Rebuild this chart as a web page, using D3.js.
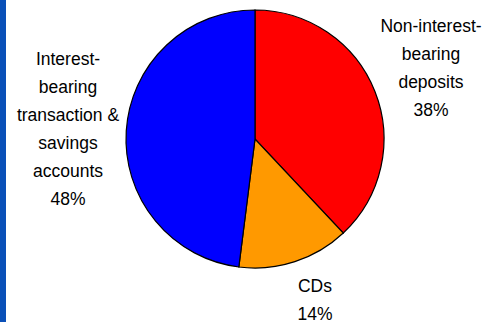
<!DOCTYPE html>
<html><head><meta charset="utf-8">
<script src="https://cdn.jsdelivr.net/npm/d3@7"></script>
<style>html,body{margin:0;padding:0;background:#fff;overflow:hidden}</style>
</head><body>
<svg id="chart" width="490" height="322"></svg>
<script>
const categories = ["Non-interest-bearing deposits", "CDs", "Interest-bearing transaction & savings accounts"];
const values = [38, 14, 48];
const colors = ["#ff0000", "#ff9900", "#0000ff"];
const labelLines = [
  ["Non-interest-", "bearing", "deposits", "38%"],
  ["CDs", "14%"],
  ["Interest-", "bearing", "transaction &", "savings", "accounts", "48%"]
];

const svg = d3.select("#chart");
svg.append("rect").attr("x", 0).attr("y", 0).attr("width", 6).attr("height", 322).attr("fill", "#0a50b8");

const cx = 255, cy = 139, r = 129;
const pie = d3.pie().sort(null).value(d => d)(values);
const arc = d3.arc().innerRadius(0).outerRadius(r);
const g = svg.append("g").attr("transform", `translate(${cx},${cy})`);
g.selectAll("path").data(pie).join("path")
  .attr("d", arc)
  .attr("fill", (d, i) => colors[i])
  .attr("stroke", "#000")
  .attr("stroke-width", 1.2);

const labelPos = [[431, 25], [315, 285], [68, 58]];
const lh = 28;
labelLines.forEach((lines, i) => {
  const t = svg.append("text")
    .attr("text-anchor", "middle")
    .attr("font-family", "Liberation Sans, Arial, sans-serif")
    .attr("font-size", 17.5)
    .attr("fill", "#000");
  lines.forEach((ln, j) => {
    t.append("tspan").attr("x", labelPos[i][0]).attr("y", labelPos[i][1] + j * lh + 6.5).text(ln);
  });
});
</script>
</body></html>
